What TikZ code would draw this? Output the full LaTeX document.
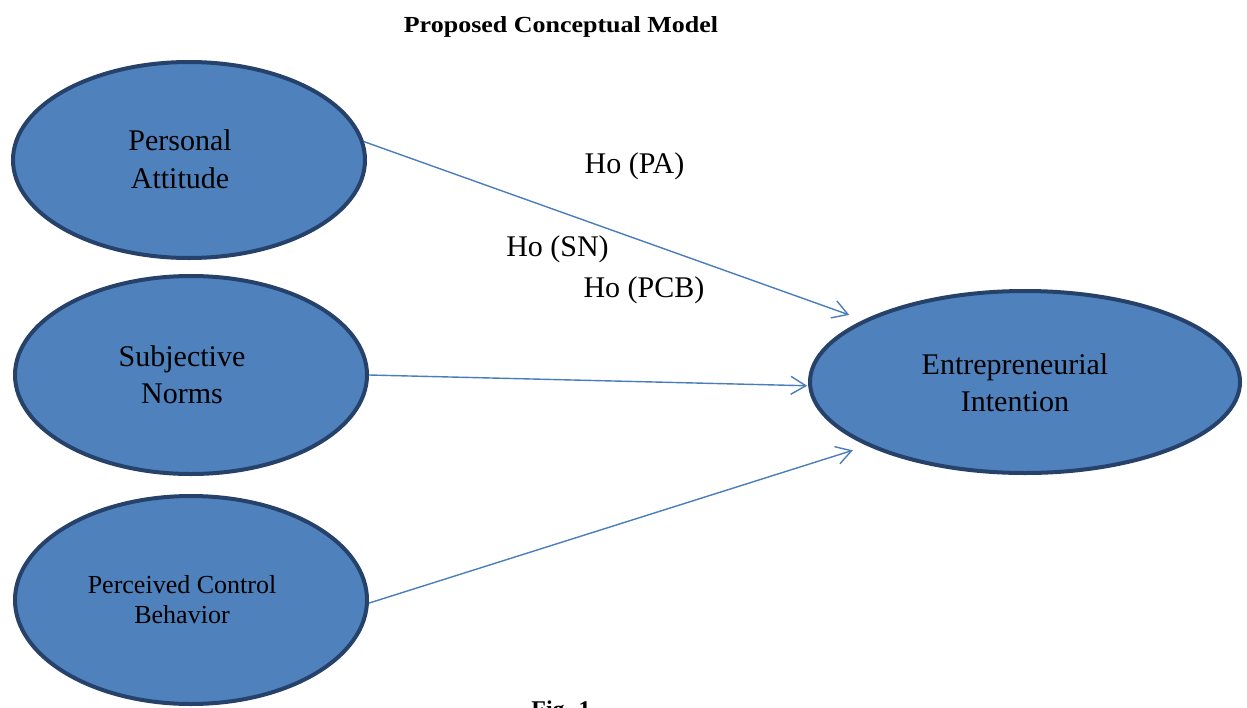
\documentclass[tikz,border=0pt]{standalone}
\usepackage{fontspec}
\setmainfont{Liberation Serif}
\usetikzlibrary{arrows.meta,shapes.geometric}
\definecolor{efill}{HTML}{4F81BD}
\definecolor{edraw}{HTML}{26426A}
\definecolor{arr}{HTML}{4A7EBB}
\tikzset{
  bubble/.style={ellipse, fill=efill, draw=edraw, line width=4pt, inner sep=0pt},
  lbl/.style={anchor=base, inner sep=0pt, font=\fontsize{30}{36}\selectfont},
  slbl/.style={anchor=base, inner sep=0pt, font=\fontsize{26}{30}\selectfont},
  conn/.style={draw=arr, line width=1.4pt, -{Straight Barb[length=15pt,width=18pt,line width=1.4pt]}},
}
\begin{document}
\begin{tikzpicture}[x=1pt,y=-1pt]
\useasboundingbox (0,0) rectangle (1247,707);
\fill[white] (0,0) rectangle (1247,707);
\node[anchor=base, inner sep=0pt] (title) at (561,32) {\scalebox{1.13}[1]{\fontsize{23}{26}\selectfont\bfseries Proposed Conceptual Model}};
\node[bubble, minimum width=352pt, minimum height=196pt] (pa) at (189,160) {};
\node[bubble, minimum width=352pt, minimum height=198pt] (sn) at (191,375) {};
\node[bubble, minimum width=352pt, minimum height=208pt] (pcb) at (191,600) {};
\node[bubble, minimum width=430pt, minimum height=182pt] (ei) at (1025,382) {};
\node[lbl] (pa1) at (180,150) {Personal};
\node[lbl] (pa2) at (180,188) {Attitude};
\node[lbl] (sn1) at (182,366) {Subjective};
\node[lbl] (sn2) at (182,403) {Norms};
\node[slbl] (pcb1) at (182,593) {Perceived Control};
\node[slbl] (pcb2) at (182,623) {Behavior};
\node[lbl] (ei1) at (1015,374) {Entrepreneurial};
\node[lbl] (ei2) at (1015,411) {Intention};
\node[lbl] (hpa) at (634.5,173) {Ho (PA)};
\node[lbl] (hsn) at (557.5,256) {Ho (SN)};
\node[lbl] (hpcb) at (644,297) {Ho (PCB)};
\draw[conn, shorten >=15pt] (pa.6) -- (ei.159);
\draw[conn, shorten >=1pt] (sn.0) -- (ei.181);
\draw[conn, shorten >=15pt] (pcb.-1) -- (ei.202);
\node[anchor=base, inner sep=0pt] (fig) at (561,717) {\fontsize{24}{28}\selectfont\bfseries Fig. 1};
\end{tikzpicture}
\end{document}
